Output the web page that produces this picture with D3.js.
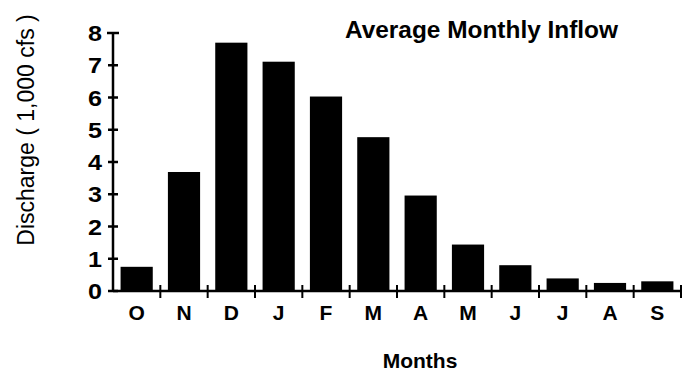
<!DOCTYPE html>
<html>
<head>
<meta charset="utf-8">
<script src="https://cdn.jsdelivr.net/npm/d3@7"></script>
<style>
html,body{margin:0;padding:0;background:#fff;}
svg{display:block;font-family:"Liberation Sans",Arial,Helvetica,sans-serif;}
</style>
</head>
<body>
<svg id="chart" width="694" height="374"></svg>
<script>
const months = ["O","N","D","J","F","M","A","M","J","J","A","S"];
const discharge = [0.75, 3.69, 7.70, 7.11, 6.03, 4.77, 2.96, 1.44, 0.80, 0.39, 0.25, 0.30];
const yTicks = [0,1,2,3,4,5,6,7,8];
const titleText = "Average Monthly Inflow";
const xTitle = "Months";
const yTitle = "Discharge ( 1,000 cfs )";

const svg = d3.select("#chart");
const x0 = 113, x1 = 681, yBase = 291, yTop = 33;

const idx = months.map((m,i)=>i);
const x = d3.scaleBand().domain(idx).range([x0, x1]).paddingInner(0.32).paddingOuter(0.16);
const y = d3.scaleLinear().domain([0, 8]).range([yBase, yTop]);

// bars
svg.append("g").selectAll("rect").data(discharge).join("rect")
  .attr("x", (d,i)=>x(i))
  .attr("width", x.bandwidth())
  .attr("y", d=>y(d))
  .attr("height", d=>y(0)-y(d))
  .attr("fill","#000");

const step = x.step();
const boundaries = d3.range(months.length+1).map(i=>x0 + i*step);

// x axis
const gx = svg.append("g");
gx.append("line").attr("x1",x0).attr("x2",x1).attr("y1",yBase).attr("y2",yBase)
  .attr("stroke","#000").attr("stroke-width",2.5);
gx.selectAll("line.tk").data(boundaries.slice(1)).join("line").attr("class","tk")
  .attr("x1",d=>d).attr("x2",d=>d).attr("y1",yBase-6).attr("y2",yBase+7)
  .attr("stroke","#000").attr("stroke-width",2);
gx.selectAll("text").data(months).join("text")
  .attr("x",(d,i)=>x(i)+x.bandwidth()/2)
  .attr("y",320)
  .attr("text-anchor","middle")
  .attr("font-size",21).attr("font-weight","bold")
  .text(d=>d);

// y axis
const gy = svg.append("g");
gy.append("line").attr("x1",x0).attr("x2",x0).attr("y1",yBase).attr("y2",yTop)
  .attr("stroke","#000").attr("stroke-width",2.5);
gy.selectAll("line.tk").data(yTicks).join("line").attr("class","tk")
  .attr("x1",d=>d===8?x0-6:x0-5).attr("x2",d=>d===8?x0+6:x0+5)
  .attr("y1",d=>y(d)).attr("y2",d=>y(d))
  .attr("stroke","#000").attr("stroke-width",2.5);
gy.selectAll("text").data(yTicks).join("text")
  .attr("x",88).attr("y",d=>y(d)+8)
  .attr("font-size",22).attr("font-weight","bold")
  .attr("textLength",14).attr("lengthAdjust","spacingAndGlyphs")
  .text(d=>d);

// titles
svg.append("text").attr("x",345).attr("y",38)
  .attr("font-size",23).attr("font-weight","bold")
  .attr("textLength",273).attr("lengthAdjust","spacingAndGlyphs")
  .text(titleText);
svg.append("text").attr("x",420).attr("y",368)
  .attr("text-anchor","middle")
  .attr("font-size",21).attr("font-weight","bold")
  .text(xTitle);
svg.append("text").attr("transform","translate(34,130) rotate(-90)")
  .attr("text-anchor","middle")
  .attr("font-size",23)
  .text(yTitle);
</script>
</body>
</html>
